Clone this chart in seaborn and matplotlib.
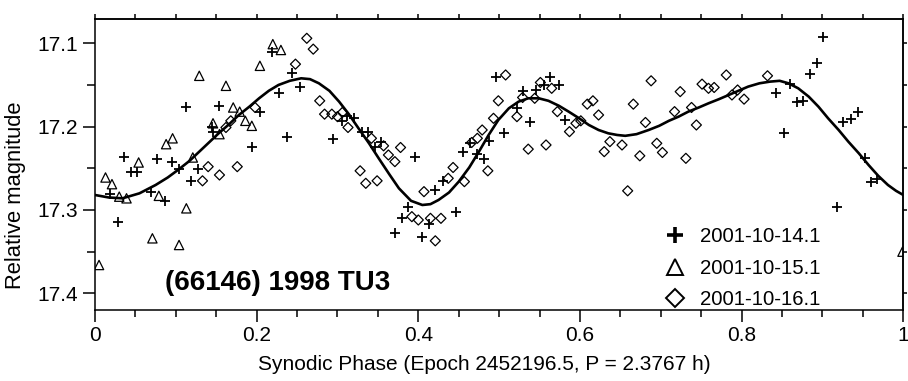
import numpy as np
import pandas as pd
import matplotlib
matplotlib.use("Agg")
import matplotlib.pyplot as plt
from matplotlib.ticker import MultipleLocator, FixedLocator, NullFormatter
from matplotlib.lines import Line2D
import seaborn as sns

# ---------------- data ----------------
plus_x = [0.019, 0.028, 0.036, 0.044, 0.052, 0.069, 0.077, 0.087, 0.095, 0.104,
          0.112, 0.119, 0.128, 0.145, 0.146, 0.153, 0.194, 0.204, 0.219, 0.228,
          0.237, 0.244, 0.254, 0.295, 0.305, 0.312, 0.321, 0.330, 0.338, 0.346,
          0.354, 0.371, 0.380, 0.387, 0.396, 0.405, 0.413, 0.421, 0.430, 0.447,
          0.455, 0.464, 0.473, 0.481, 0.488, 0.496, 0.506, 0.522, 0.530, 0.538,
          0.546, 0.555, 0.563, 0.574, 0.581, 0.843, 0.852, 0.860, 0.868, 0.876,
          0.885, 0.893, 0.901, 0.918, 0.926, 0.935, 0.944, 0.952, 0.960, 0.968]
plus_y = [17.281, 17.314, 17.237, 17.254, 17.254, 17.278, 17.239, 17.289, 17.242, 17.251,
          17.176, 17.265, 17.251, 17.200, 17.206, 17.175, 17.224, 17.183, 17.110, 17.160,
          17.212, 17.136, 17.152, 17.215, 17.193, 17.187, 17.190, 17.206, 17.206, 17.225,
          17.218, 17.328, 17.310, 17.297, 17.237, 17.332, 17.317, 17.276, 17.265, 17.302,
          17.230, 17.220, 17.233, 17.239, 17.217, 17.141, 17.208, 17.178, 17.157, 17.194,
          17.156, 17.150, 17.141, 17.150, 17.192, 17.160, 17.208, 17.149, 17.171, 17.169,
          17.137, 17.124, 17.093, 17.296, 17.195, 17.191, 17.183, 17.238, 17.267, 17.263]

tri_x = [0.005, 0.013, 0.021, 0.030, 0.039, 0.054, 0.071, 0.079, 0.088, 0.096,
         0.104, 0.113, 0.121, 0.129, 0.146, 0.154, 0.162, 0.171, 0.179, 0.186,
         0.194, 0.204, 0.220, 0.230, 0.999]
tri_y = [17.366, 17.261, 17.269, 17.284, 17.286, 17.243, 17.334, 17.283, 17.221, 17.214,
         17.342, 17.298, 17.237, 17.139, 17.196, 17.209, 17.151, 17.177, 17.182, 17.193,
         17.199, 17.127, 17.101, 17.108, 17.350]

dia_x = [0.133, 0.140, 0.154, 0.162, 0.168, 0.176, 0.198, 0.248, 0.262, 0.270,
         0.278, 0.284, 0.293, 0.300, 0.306, 0.313, 0.328, 0.335, 0.342, 0.349,
         0.357, 0.363, 0.371, 0.378, 0.392, 0.400, 0.407, 0.415, 0.421, 0.428,
         0.437, 0.443, 0.457, 0.466, 0.473, 0.479, 0.486, 0.493, 0.499, 0.508,
         0.522, 0.529, 0.536, 0.544, 0.551, 0.558, 0.565, 0.572, 0.587, 0.595,
         0.601, 0.609, 0.616, 0.623, 0.630, 0.637, 0.652, 0.659, 0.666, 0.674,
         0.681, 0.688, 0.695, 0.702, 0.717, 0.724, 0.731, 0.738, 0.744, 0.751,
         0.759, 0.766, 0.781, 0.788, 0.795, 0.803, 0.832]
dia_y = [17.265, 17.248, 17.258, 17.201, 17.193, 17.248, 17.177, 17.125, 17.094, 17.107,
         17.169, 17.185, 17.185, 17.188, 17.183, 17.201, 17.253, 17.268, 17.214, 17.265,
         17.223, 17.234, 17.242, 17.225, 17.308, 17.312, 17.278, 17.310, 17.337, 17.310,
         17.262, 17.249, 17.266, 17.219, 17.214, 17.204, 17.253, 17.190, 17.169, 17.138,
         17.188, 17.165, 17.227, 17.166, 17.147, 17.222, 17.154, 17.182, 17.206, 17.196,
         17.193, 17.173, 17.169, 17.186, 17.230, 17.218, 17.222, 17.277, 17.173, 17.235,
         17.195, 17.145, 17.220, 17.231, 17.182, 17.158, 17.238, 17.177, 17.198, 17.149,
         17.154, 17.153, 17.138, 17.162, 17.156, 17.167, 17.139]

curve_x = [0.000, 0.017, 0.034, 0.055, 0.075, 0.090, 0.104, 0.117, 0.129, 0.141, 0.153,
           0.166, 0.178, 0.191, 0.203, 0.215, 0.227, 0.241, 0.255, 0.266, 0.277,
           0.290, 0.302, 0.314, 0.326, 0.339, 0.351, 0.364, 0.376, 0.391, 0.405,
           0.415, 0.425, 0.438, 0.450, 0.463, 0.475, 0.487, 0.499, 0.512, 0.524,
           0.536, 0.549, 0.561, 0.574, 0.586, 0.599, 0.611, 0.623, 0.635, 0.646,
           0.656, 0.670, 0.685, 0.698, 0.710, 0.722, 0.734, 0.747, 0.759, 0.772,
           0.784, 0.796, 0.808, 0.822, 0.835, 0.847, 0.858, 0.870, 0.883, 0.895,
           0.907, 0.920, 0.932, 0.945, 0.957, 0.969, 0.981, 0.991, 1.000]
curve_y = [17.282, 17.285, 17.286, 17.280, 17.270, 17.261, 17.251, 17.241, 17.230, 17.219, 17.208,
           17.197, 17.186, 17.176, 17.166, 17.157, 17.150, 17.145, 17.142, 17.143, 17.148,
           17.157, 17.170, 17.185, 17.202, 17.220, 17.238, 17.257, 17.274, 17.289, 17.294,
           17.293, 17.288, 17.279, 17.266, 17.249, 17.230, 17.210, 17.192, 17.178, 17.170,
           17.166, 17.166, 17.169, 17.175, 17.182, 17.190, 17.198, 17.204, 17.208, 17.210,
           17.211, 17.209, 17.204, 17.199, 17.193, 17.188, 17.182, 17.177, 17.172, 17.167,
           17.162, 17.157, 17.152, 17.148, 17.146, 17.145, 17.148, 17.154, 17.164, 17.176,
           17.190, 17.204, 17.218, 17.232, 17.246, 17.259, 17.270, 17.277, 17.282]

series_labels = ["2001-10-14.1", "2001-10-15.1", "2001-10-16.1"]
x_ticks = [0, 0.2, 0.4, 0.6, 0.8, 1.0]
x_tick_labels = ["0", "0.2", "0.4", "0.6", "0.8", "1"]
y_ticks = [17.1, 17.2, 17.3, 17.4]
y_tick_labels = ["17.1", "17.2", "17.3", "17.4"]
title_text = "(66146) 1998 TU3"
x_label = "Synodic Phase (Epoch 2452196.5, P = 2.3767 h)"
y_label = "Relative magnitude"

# ---------------- style ----------------
sns.set_theme(style="ticks")
plt.rcParams["font.family"] = ["Liberation Sans", "DejaVu Sans"]
plt.rcParams["font.size"] = 15
plt.rcParams["axes.linewidth"] = 1.1
plt.rcParams["xtick.color"] = "black"
plt.rcParams["ytick.color"] = "black"
plt.rcParams["axes.edgecolor"] = "black"
plt.rcParams["text.color"] = "black"
plt.rcParams["axes.labelcolor"] = "black"

fig = plt.figure(figsize=(9.08, 3.81), dpi=100)
ax = fig.add_axes([95 / 908, 1 - 310 / 381, (903.3 - 95) / 908, (310 - 19.3) / 381])

df_p = pd.DataFrame({"x": plus_x, "y": plus_y})
df_t = pd.DataFrame({"x": tri_x, "y": tri_y})
df_d = pd.DataFrame({"x": dia_x, "y": dia_y})
df_c = pd.DataFrame({"x": curve_x, "y": curve_y})

sns.lineplot(data=df_c, x="x", y="y", ax=ax, color="black", linewidth=1.9,
             sort=False, estimator=None, zorder=2)
sns.scatterplot(data=df_p, x="x", y="y", ax=ax, marker="+", color="black",
                s=55, linewidth=1.3, zorder=3)
sns.scatterplot(data=df_t, x="x", y="y", ax=ax, marker="^", facecolors="none",
                edgecolor="black", s=45, linewidth=0.9, zorder=3)
sns.scatterplot(data=df_d, x="x", y="y", ax=ax, marker="D", facecolors="none",
                edgecolor="black", s=26, linewidth=0.9, zorder=3)

ax.set_xlim(0, 1)
ax.set_ylim(17.42, 17.0712)

ax.set_xticks(x_ticks)
ax.set_xticklabels(x_tick_labels)
ax.xaxis.set_minor_locator(MultipleLocator(0.05))
ax.set_yticks(y_ticks)
ax.set_yticklabels(y_tick_labels)
ax.yaxis.set_minor_locator(MultipleLocator(0.05))

ax.tick_params(axis="x", which="major", direction="out", length=8.5, width=1.1, pad=3, labelsize=15)
ax.tick_params(axis="x", which="minor", direction="out", length=5, width=1.1)
ax.tick_params(axis="y", which="major", direction="out", length=9, width=1.1, pad=3, labelsize=15)
ax.tick_params(axis="y", which="minor", direction="out", length=5.5, width=1.1)

top = ax.secondary_xaxis("top")
top.xaxis.set_major_locator(MultipleLocator(0.05))
top.xaxis.set_major_formatter(NullFormatter())
top.tick_params(axis="x", direction="out", length=3.5, width=1.1)
right = ax.secondary_yaxis("right")
right.yaxis.set_major_locator(MultipleLocator(0.05))
right.yaxis.set_major_formatter(NullFormatter())
right.tick_params(axis="y", direction="out", length=3, width=1.1)

ax.set_xlabel(x_label, fontsize=15)
ax.xaxis.set_label_coords(0.482, -0.155)
ax.set_ylabel(y_label, fontsize=15.8)
ax.yaxis.set_label_coords(-0.085, 0.396)

ax.text(0.087, 17.388, title_text, fontsize=20, fontweight="bold", ha="left", va="center")

handles = [
    Line2D([], [], linestyle="none", marker="+", color="black", markersize=12, markeredgewidth=2.6),
    Line2D([], [], linestyle="none", marker="^", markerfacecolor="none", markeredgecolor="black",
           markersize=12, markeredgewidth=1.4),
    Line2D([], [], linestyle="none", marker="D", markerfacecolor="none", markeredgecolor="black",
           markersize=9, markeredgewidth=1.4),
]
ax.legend(handles, series_labels, loc="upper left", bbox_to_anchor=(0.705, 0.285),
          frameon=False, fontsize=14.7, handlelength=1.0, handletextpad=0.7,
          labelspacing=0.62, borderpad=0, borderaxespad=0)

fig.savefig("out.png", dpi=100)
